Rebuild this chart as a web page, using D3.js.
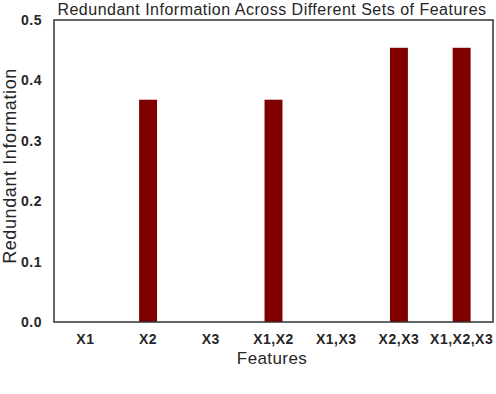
<!DOCTYPE html>
<html>
<head>
<meta charset="utf-8">
<script src="https://cdn.jsdelivr.net/npm/d3@7"></script>
<style>
  body { margin: 0; background: #fff; }
  text { font-family: "Liberation Sans", Arial, sans-serif; }
</style>
</head>
<body>
<svg id="chart" width="496" height="394"></svg>
<script>
"use strict";

// Gegevens
var features = ["X1", "X2", "X3", "X1,X2", "X1,X3", "X2,X3", "X1,X2,X3"];
var redundant = [0, 0.368, 0, 0.368, 0, 0.454, 0.454];
var yTicks = [0.0, 0.1, 0.2, 0.3, 0.4, 0.5];

var svg = d3.select("#chart");
var m = { left: 54, right: 3, top: 20, bottom: 72 };
var w = 496 - m.left - m.right, h = 394 - m.top - m.bottom;

var x = d3.scaleBand().domain(features).range([m.left, m.left + w])
    .paddingInner(0.714).paddingOuter(0.357);
var y = d3.scaleLinear().domain([0, 0.5]).range([m.top + h, m.top]);

// Staven
svg.selectAll("rect.bar")
    .data(features)
    .enter().append("rect")
    .attr("class", "bar")
    .attr("x", function (d) { return x(d); })
    .attr("width", x.bandwidth())
    .attr("y", function (d, i) { return y(redundant[i]); })
    .attr("height", function (d, i) { return y(0) - y(redundant[i]); })
    .style("fill", "#800000");

// Assen zonder streepjes
function opmaak(sel) {
    sel.selectAll("text").style("font-size", "14px").style("font-weight", "bold")
        .style("letter-spacing", "0.5px").style("fill", "#262626")
        .style("font-family", "Liberation Sans, Arial, sans-serif");
}
var ax = svg.append("g").attr("transform", "translate(0," + (m.top + h) + ")")
    .call(d3.axisBottom(x).tickSize(0).tickPadding(12));
ax.select(".domain").remove();
opmaak(ax);

var ay = svg.append("g").attr("transform", "translate(" + m.left + ",0)")
    .call(d3.axisLeft(y).tickValues(yTicks).tickFormat(d3.format(".1f")).tickSize(0).tickPadding(12));
ay.select(".domain").remove();
opmaak(ay);

// Kader
svg.append("rect")
    .attr("x", m.left).attr("y", m.top).attr("width", w).attr("height", h)
    .style("fill", "none").style("stroke", "#333").style("stroke-width", 1.5);

// Titels
svg.append("text").attr("x", 272).attr("y", 15)
    .attr("text-anchor", "middle").style("font-size", "16px").style("letter-spacing", "0.5px")
    .style("fill", "#262626")
    .text("Redundant Information Across Different Sets of Features");
svg.append("text").attr("x", 272).attr("y", 364)
    .attr("text-anchor", "middle").style("font-size", "17px").style("letter-spacing", "0.4px")
    .style("fill", "#262626")
    .text("Features");
svg.append("text").attr("transform", "translate(16,166) rotate(-90)")
    .attr("text-anchor", "middle").style("font-size", "18px").style("letter-spacing", "0.6px")
    .style("fill", "#262626")
    .text("Redundant Information");
</script>
</body>
</html>
